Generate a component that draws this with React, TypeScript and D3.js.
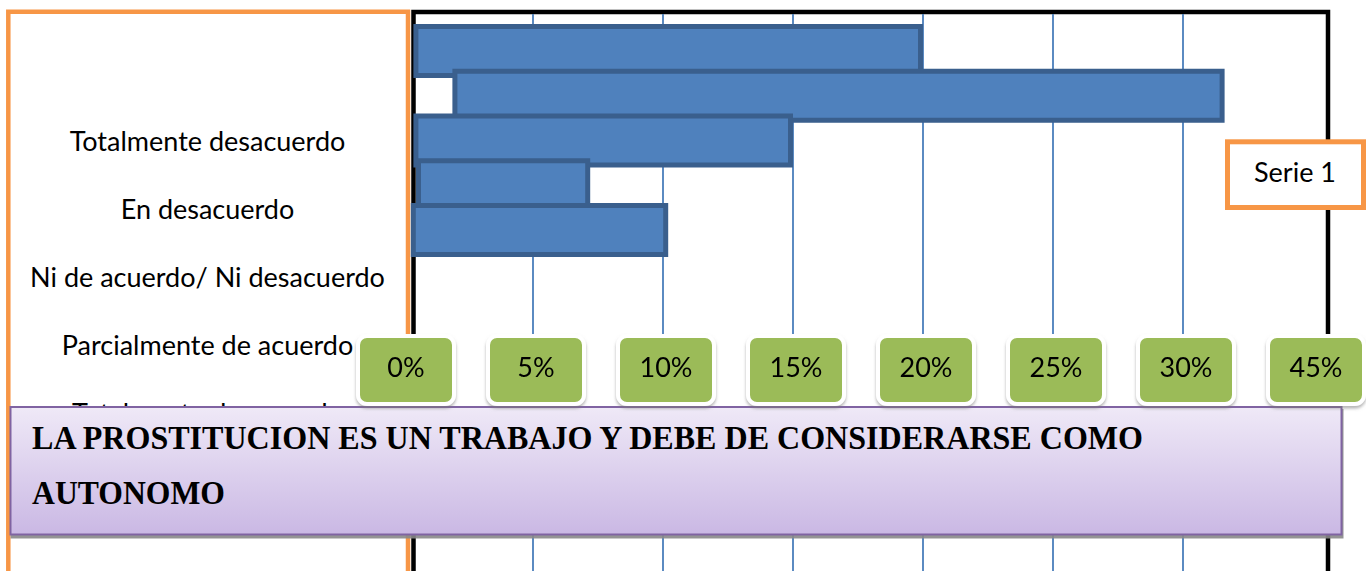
import React from 'react';
import * as d3 from 'd3';

// categories, top to bottom
const categories = [
  'Totalmente desacuerdo',
  'En desacuerdo',
  'Ni de acuerdo/ Ni desacuerdo',
  'Parcialmente de acuerdo',
  'Totalmente de acuerdo',
];
// each bar is drawn from a start to an end value (in %)
const barStart = [0.4, 1.9, 0.4, 0.5, 0.3];
const barEnd = [20, 31.6, 15, 7.2, 10.2];
const gridTicks = [5, 10, 15, 20, 25, 30];
const tickLabels = ['0%', '5%', '10%', '15%', '20%', '25%', '30%', '45%'];
const seriesName = 'Serie 1';
const titleLines = ['LA PROSTITUCION ES UN TRABAJO Y DEBE DE CONSIDERARSE COMO', 'AUTONOMO'];

const W = 1366;
const H = 571;
const sans = 'Lato, Carlito, Calibri, sans-serif';

const App = () => {
  const x = d3.scaleLinear().domain([0, 30]).range([403, 1183]);
  const barY = d3.scalePoint<string>().domain(categories).range([24, 203]);
  const labelY = d3.scalePoint<string>().domain(categories).range([151, 423]);
  const tickX = d3.scalePoint<string>().domain(tickLabels).range([406, 1316]);
  const barH = 54;
  const sw = 5;

  return (
    <svg width={W} height={H} style={{ position: 'absolute', left: 0, top: 0, display: 'block' }}>
      <defs>
        <linearGradient id="titleFill" x1="0" y1="0" x2="0" y2="1">
          <stop offset="0" stopColor="#efe9f7" />
          <stop offset="1" stopColor="#cab8e4" />
        </linearGradient>
        <filter id="boxShadow" x="-10%" y="-10%" width="130%" height="140%">
          <feDropShadow dx="0" dy="2.5" stdDeviation="1.5" floodColor="#777" floodOpacity="0.55" />
        </filter>
        <filter id="titleShadow" x="-5%" y="-5%" width="110%" height="120%">
          <feDropShadow dx="1" dy="3" stdDeviation="0.6" floodColor="#888" floodOpacity="0.9" />
        </filter>
      </defs>

      <rect width={W} height={H} fill="#fff" />

      {/* orange category box */}
      <path d={`M8.3,${H + 10} V11.7 H408 V${H + 10}`} fill="none" stroke="#f79646" strokeWidth={4.5} />

      {/* black plot frame */}
      <path d={`M413.5,${H + 10} V12 H1328 V${H + 10}`} fill="none" stroke="#000" strokeWidth={4.5} />

      {/* vertical grid */}
      {gridTicks.map((t) => (
        <line key={t} x1={x(t)} x2={x(t)} y1={14} y2={H} stroke="#4a7ebb" strokeWidth={1.8} />
      ))}

      {/* bars */}
      {categories.map((c, i) => (
        <rect
          key={c}
          x={x(barStart[i]) + sw / 2}
          y={(barY(c) as number) + sw / 2}
          width={x(barEnd[i]) - x(barStart[i]) - sw}
          height={barH - sw}
          fill="#4f81bd"
          stroke="#3a5f8d"
          strokeWidth={sw}
        />
      ))}

      {/* category labels */}
      {categories.map((c) => (
        <text key={c} x={207.5} y={labelY(c)} textAnchor="middle" fontFamily={sans} fontSize={27} fill="#000">
          {c}
        </text>
      ))}

      {/* legend */}
      <rect x={1227.5} y={141.8} width={136} height={65.7} fill="#fff" stroke="#f79646" strokeWidth={5} />
      <text x={1295} y={181.7} textAnchor="middle" fontFamily={sans} fontSize={27} fill="#000">
        {seriesName}
      </text>

      {/* title box */}
      <rect x={10.5} y={407} width={1331} height={127.5} fill="url(#titleFill)" stroke="#8064a2" strokeWidth={2} filter="url(#titleShadow)" />
      {titleLines.map((t, i) => (
        <text
          key={t}
          x={32}
          y={448.5 + i * 55}
          fontFamily='"Liberation Serif", "Times New Roman", serif'
          fontWeight="bold"
          fontSize={33.5}
          fill="#000"
          textLength={i === 0 ? 1111 : 193}
          lengthAdjust="spacingAndGlyphs"
        >
          {t}
        </text>
      ))}

      {/* green tick labels */}
      {tickLabels.map((t) => {
        const cx = tickX(t) as number;
        return (
          <g key={t} filter="url(#boxShadow)">
            <rect x={cx - 48} y={336} width={96} height={68} rx={9} fill="#9bbb59" stroke="#fff" strokeWidth={4} />
            <text x={cx} y={377} textAnchor="middle" fontFamily={sans} fontSize={27} fill="#000">
              {t}
            </text>
          </g>
        );
      })}
    </svg>
  );
};

export default App;
